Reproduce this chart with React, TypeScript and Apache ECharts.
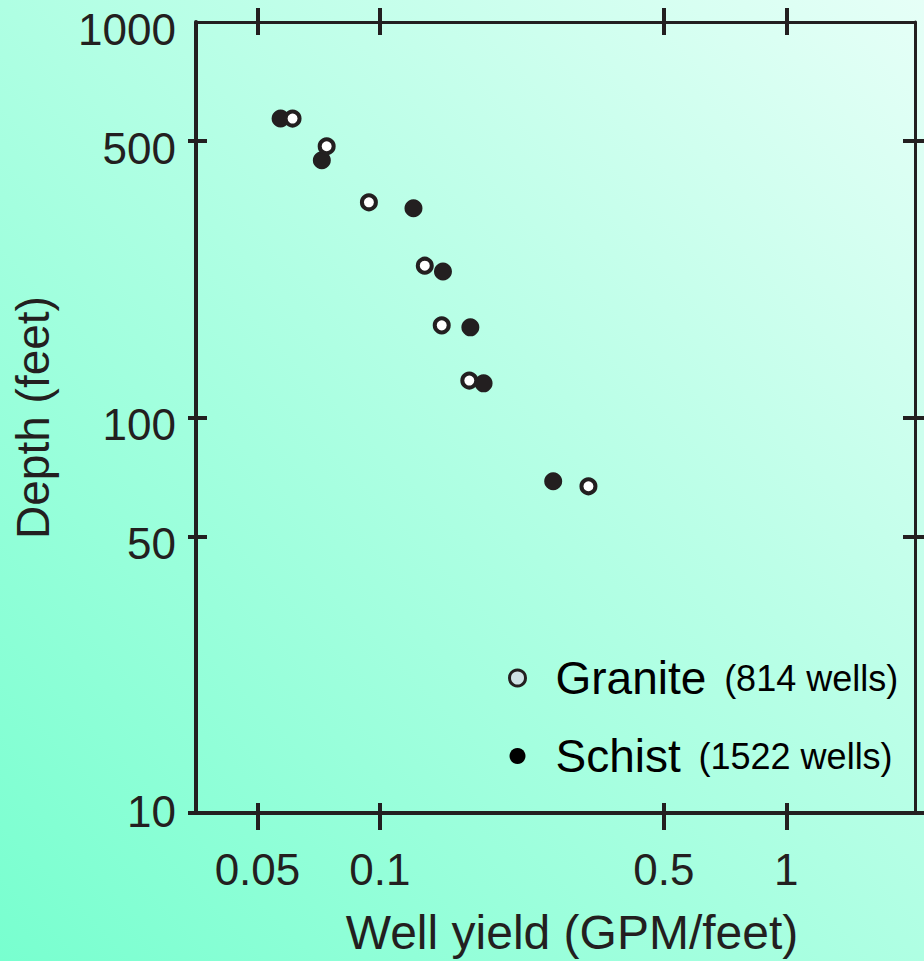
import React, { useEffect, useRef } from "react";
import * as echarts from "echarts";

// Data (well yield in GPM/feet, depth in feet)
const graniteYield = [0.061, 0.074, 0.094, 0.129, 0.142, 0.166, 0.326];
const graniteDepth = [570, 485, 350, 242, 171, 124, 67];
const schistYield = [0.057, 0.072, 0.121, 0.143, 0.167, 0.18, 0.267];
const schistDepth = [570, 447, 338, 234, 169, 122, 69];

const seriesNames = ["Granite", "Schist"];
const wellCounts = [814, 1522];

const xTickValues = [0.05, 0.1, 0.5, 1];
const yTickLabels = [10, 50, 100, 500, 1000];
const yTickMarks = [10, 50, 100, 500];
const xRange = [0.0353, 2.073];
const yRange = [10, 1000];

const lg = (v: number) => Math.log10(v);
const INK = "#231f20";
const FONT = "'Liberation Sans', Arial, Helvetica, sans-serif";

function fmt(v: number): string {
  const r = Math.pow(10, v);
  return String(parseFloat(r.toPrecision(3)));
}

function xAxisDef(position: "top" | "bottom", opts: any) {
  return {
    type: "value",
    position,
    min: lg(xRange[0]),
    max: lg(xRange[1]),
    splitLine: { show: false },
    axisLine: { show: false, onZero: false },
    axisLabel: { show: false },
    axisTick: { show: false },
    ...opts,
  };
}

function yAxisDef(position: "left" | "right", opts: any) {
  return {
    type: "value",
    position,
    min: lg(yRange[0]),
    max: lg(yRange[1]),
    splitLine: { show: false },
    axisLine: { show: false, onZero: false },
    axisLabel: { show: false },
    axisTick: { show: false },
    ...opts,
  };
}

export default function App() {
  const ref = useRef<HTMLDivElement>(null);

  useEffect(() => {
    if (!ref.current) return;
    const chart = echarts.init(ref.current, null, { renderer: "svg" });

    const xTicks = xTickValues.map(lg);
    const yLabels = yTickLabels.map(lg);
    const yTicks = yTickMarks.map(lg);

    const tick = (len: number, inside: boolean, values: number[]) => ({
      show: true,
      inside,
      length: len,
      customValues: values,
      lineStyle: { color: INK, width: 4 },
    });

    const labelText = { fontSize: 44, fontFamily: FONT, color: INK };

    const option: any = {
      animation: false,
      backgroundColor: "transparent",
      grid: { left: 196, top: 22, right: 9, bottom: 146, containLabel: false },
      xAxis: [
        xAxisDef("bottom", {
          axisLine: { show: true, onZero: false, lineStyle: { color: INK, width: 4 } },
          axisTick: tick(17, false, xTicks),
          axisLabel: {
            show: true,
            customValues: xTicks,
            formatter: (v: number) => fmt(v),
            margin: 34,
            ...labelText,
          },
          name: "Well yield (GPM/feet)",
          nameLocation: "middle",
          nameGap: 95,
          nameTextStyle: {
            fontSize: 48,
            fontFamily: FONT,
            color: INK,
            padding: [0, 0, 0, 33],
          },
        }),
        xAxisDef("bottom", { axisTick: tick(10, true, xTicks) }),
        xAxisDef("top", {
          axisLine: { show: true, onZero: false, lineStyle: { color: INK, width: 3 } },
          axisTick: tick(14, false, xTicks),
        }),
        xAxisDef("top", { axisTick: tick(13, true, xTicks) }),
      ],
      yAxis: [
        yAxisDef("left", {
          axisLine: { show: true, onZero: false, lineStyle: { color: INK, width: 4 } },
          axisTick: tick(8, false, yTicks),
          axisLabel: {
            show: true,
            customValues: yLabels,
            formatter: (v: number) => {
              const s = fmt(v);
              return s === "10" ? `{z|${s}}` : `{d|${s}}`;
            },
            margin: 20,
            ...labelText,
            rich: {
              d: { ...labelText, padding: [14, 0, 0, 0] },
              z: { ...labelText, padding: [0, 0, 4, 0] },
            },
          },
          name: "Depth (feet)",
          nameLocation: "middle",
          nameGap: 140,
          nameTextStyle: { fontSize: 46, fontFamily: FONT, color: INK },
        }),
        yAxisDef("left", { axisTick: tick(11, true, yTicks) }),
        yAxisDef("right", {
          axisLine: { show: true, onZero: false, lineStyle: { color: INK, width: 3 } },
          axisTick: tick(10, false, yTicks),
        }),
        yAxisDef("right", { axisTick: tick(12, true, yTicks) }),
      ],
      legend: {
        orient: "vertical",
        left: 508,
        top: 655,
        padding: 0,
        itemWidth: 16,
        itemHeight: 16,
        itemGap: 32,
        selectedMode: false,
        data: [
          {
            name: seriesNames[0],
            icon: "circle",
            itemStyle: { color: "#cfe2e6", borderColor: INK, borderWidth: 3 },
          },
          {
            name: seriesNames[1],
            icon: "circle",
            itemStyle: { color: "#000000", borderWidth: 0 },
          },
        ],
        formatter: (name: string) => {
          const i = seriesNames.indexOf(name);
          return `{a|${name} }{b|(${wellCounts[i]} wells)}`;
        },
        textStyle: {
          rich: {
            a: {
              fontSize: 46,
              fontFamily: FONT,
              color: "#000",
              padding: [0, 0, 0, 25],
              lineHeight: 50,
            },
            b: {
              fontSize: 36,
              fontFamily: FONT,
              color: "#000",
              lineHeight: 50,
              padding: [0, 0, 0, 5],
            },
          },
        },
      },
      series: [
        {
          type: "scatter",
          name: seriesNames[1],
          xAxisIndex: 0,
          yAxisIndex: 0,
          symbol: "circle",
          symbolSize: 18,
          itemStyle: { color: INK, opacity: 1 },
          data: schistYield.map((x, i) => [lg(x), lg(schistDepth[i])]),
          z: 2,
        },
        {
          type: "scatter",
          name: seriesNames[0],
          xAxisIndex: 0,
          yAxisIndex: 0,
          symbol: "circle",
          symbolSize: 14,
          itemStyle: { color: "#ffffff", borderColor: INK, borderWidth: 4, opacity: 1 },
          data: graniteYield.map((x, i) => [lg(x), lg(graniteDepth[i])]),
          z: 3,
        },
      ],
    };

    chart.setOption(option);
    return () => chart.dispose();
  }, []);

  return (
    <div
      ref={ref}
      style={{
        position: "absolute",
        left: 0,
        top: 0,
        width: 924,
        height: 961,
        background: "linear-gradient(to top right, #78ffcf, #e6fff7)",
      }}
    />
  );
}
